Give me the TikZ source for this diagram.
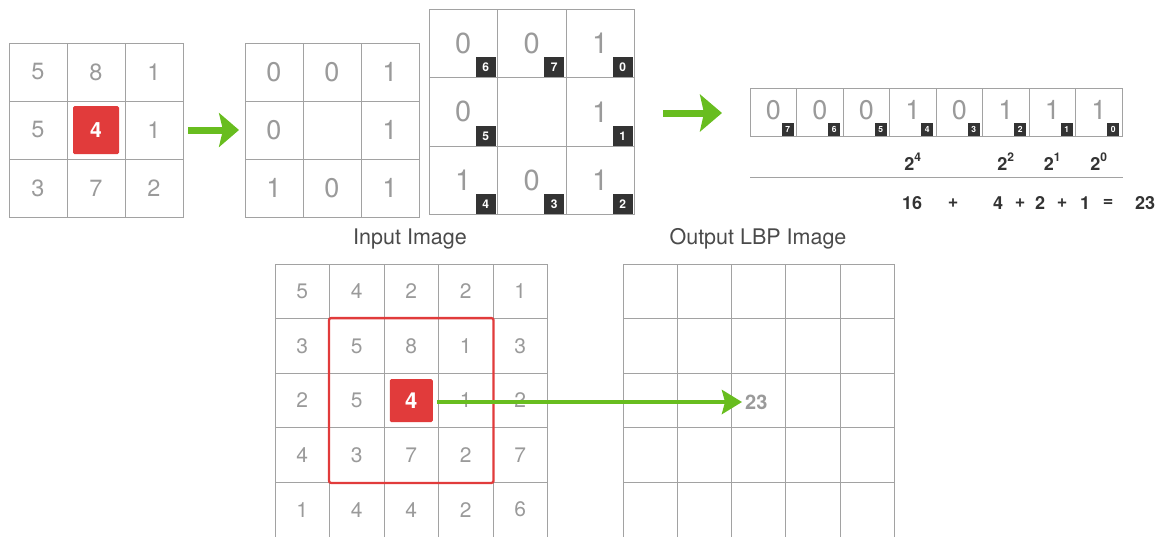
\documentclass[tikz,border=0pt]{standalone}
\usepackage{fontspec}
\setmainfont{TeX Gyre Heros}
\usetikzlibrary{arrows.meta,fit}
\definecolor{numgray}{HTML}{9A9A9A}
\definecolor{gridgray}{HTML}{A2A2A2}
\definecolor{lbpgreen}{HTML}{68BD1F}
\definecolor{lbpred}{HTML}{E13B3B}
\definecolor{tagblack}{HTML}{333333}
\definecolor{textdark}{HTML}{4A4A4A}
\newcommand{\fs}[1]{\fontsize{#1}{#1}\selectfont}
\newcommand{\pw}[1]{2\raisebox{0.5em}{\fs{12}#1}}
\begin{document}
\begin{tikzpicture}[x=1pt,y=-1pt,
  cellbase/.style={draw=gridgray,line width=0.9pt,inner sep=0pt,outer sep=0pt,text=numgray,anchor=center},
  cellA/.style={cellbase,minimum width=58pt,minimum height=58pt,font=\fs{23.5}},
  cellB/.style={cellbase,minimum width=58pt,minimum height=58pt,font=\fs{27}},
  cellC/.style={cellbase,minimum width=68.5pt,minimum height=68.5pt,font=\fs{29}},
  cellD/.style={cellbase,minimum width=46.5pt,minimum height=48pt,font=\fs{27}},
  cellE/.style={cellbase,minimum width=54.5pt,minimum height=54.6pt,font=\fs{21}},
  cellF/.style={cellbase,minimum width=54.3pt,minimum height=54.6pt},
  bigtag/.style={fill=tagblack,text=white,font=\bfseries\fs{12},minimum width=20pt,minimum height=20pt,inner sep=0pt,anchor=south east},
  smalltag/.style={fill=tagblack,text=white,font=\bfseries\fs{8.5},minimum width=12pt,minimum height=13pt,inner sep=0pt,anchor=south east},
  redbox/.style={fill=lbpred,text=white,font=\bfseries\fs{#1},inner sep=0pt,rounded corners=1.5pt},
  redframe/.style={draw=lbpred,line width=2.3pt,rounded corners=2pt,inner sep=0.5pt},
  greenarrow/.style={draw=lbpgreen,line width=7pt,-{Stealth[length=20pt,width=34pt,inset=4pt]}},
  thinarrow/.style={draw=lbpgreen,line width=4.5pt,-{Stealth[length=20pt,width=24pt,inset=3pt]}},
  powlbl/.style={font=\bfseries\fs{18},text=tagblack,inner sep=0pt},
  sumtok/.style={font=\bfseries\fs{18},text=tagblack,inner sep=0pt},
  title/.style={font=\fs{21.5},text=textdark,inner sep=0pt},
  sumline/.style={draw=gridgray,line width=0.9pt}]
\useasboundingbox (0,0) rectangle (1164,536);

% ---- grid 1: input neighbourhood
\foreach \row [count=\r from 0] in {{5,8,1},{5,{},1},{3,7,2}}
  \foreach \v [count=\c from 0] in \row
    \node[cellA] (ga-\r-\c) at ({9+58*\c+29},{43+58*\r+29}) {\v};
\node[redbox=21,minimum width=46pt,minimum height=48pt] (ga4) at (ga-1-1.center) {4};

% ---- grid 2: thresholded
\foreach \row [count=\r from 0] in {{0,0,1},{0,{},1},{1,0,1}}
  \foreach \v [count=\c from 0] in \row
    \node[cellB] (gb-\r-\c) at ({245+58*\c+29},{43+58*\r+29}) {\v};

% ---- grid 3: with bit positions
\foreach \row [count=\r from 0] in {{0,0,1},{0,{},1},{1,0,1}}
  \foreach \v [count=\c from 0] in \row
    \node[cellC] (gc-\r-\c) at ({429+68.5*\c+34.25},{9+68.5*\r+34.25}) {\v};
\foreach \cl/\t in {0-0/6,0-1/7,0-2/0,1-0/5,1-2/1,2-0/4,2-1/3,2-2/2}
  \node[bigtag] (tc\t) at ([xshift=-1.5pt]gc-\cl.south east) {\t};

% ---- binary row
\foreach \v/\t [count=\i from 0] in {0/7,0/6,0/5,1/4,0/3,1/2,1/1,1/0}
  \node[cellD] (bd\t) at ({750+46.5*\i+23.25},112) {\raisebox{5pt}{\v}};
\foreach \t in {0,...,7}
  \node[smalltag] (td\t) at ([xshift=-2.5pt]bd\t.south east) {\t};

% ---- powers and sum
\node[powlbl] (p4) at (bd4.center |- 0,162) {\pw{4}};
\node[powlbl] (p2) at (bd2.center |- 0,162) {\pw{2}};
\node[powlbl] (p1) at (bd1.center |- 0,162) {\pw{1}};
\node[powlbl] (p0) at (bd0.center |- 0,162) {\pw{0}};
\coordinate (sl) at (750,177);
\coordinate (sr) at (1123,177);
\draw[sumline] (sl) -- (sr);
\foreach \x/\tok [count=\k] in {912/16,953/+,998/4,1020/+,1040/2,1062/+,1085/1,1108/=,1145/23}
  \node[sumtok] (s\k) at (\x,203) {\tok};

% ---- top arrows
\draw[greenarrow] ([xshift=5pt]ga-1-2.east) -- ([xshift=-6pt]gb-1-0.west);
\coordinate (a2s) at (663,113);
\coordinate (a2e) at (722,113);
\draw[draw=lbpgreen,line width=7pt,-{Stealth[length=22pt,width=37pt,inset=4pt]}] (a2s) -- (a2e);

% ---- titles
\node[title] (tin) at (410,239) {Input Image};
\node[title] (tout) at (758,239) {Output LBP Image};

% ---- input image
\foreach \row [count=\r from 0] in {{5,4,2,2,1},{3,5,8,1,3},{2,5,{},1,2},{4,3,7,2,7},{1,4,4,2,6}}
  \foreach \v [count=\c from 0] in \row
    \node[cellE] (in-\r-\c) at ({275+54.5*\c+27.25},{264+54.6*\r+27.3}) {\v};
\node[redframe,fit=(in-1-1)(in-3-3)] (win) {};
\node[redbox=22,minimum width=43pt,minimum height=43pt] (in4) at (in-2-2.center) {4};

% ---- output image
\foreach \r in {0,...,4}
  \foreach \c in {0,...,4}
    \node[cellF] (out-\r-\c) at ({623+54.3*\c+27.15},{264+54.6*\r+27.3}) {};
\node[font=\bfseries\fs{20},text=numgray,inner sep=0pt,anchor=west] (o23) at (745,402) {23};

\draw[thinarrow] ([xshift=4pt]in4.east |- 0,402) -- ([xshift=-3pt]o23.west);
\end{tikzpicture}
\end{document}
